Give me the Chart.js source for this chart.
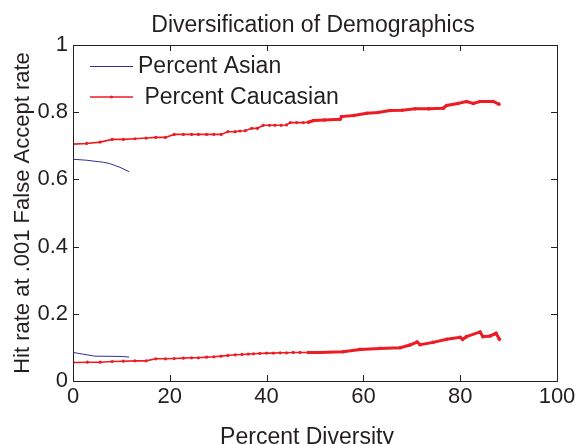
<!DOCTYPE html>
<html>
<head>
<meta charset="utf-8">
<script src="https://cdn.jsdelivr.net/npm/chart.js@4/dist/chart.umd.min.js"></script>
<style>
html, body { margin: 0; padding: 0; background: #fff; }
</style>
</head>
<body>
<canvas id="chart" width="579" height="444"></canvas>
<script>
// values
const xTickValues = [0, 20, 40, 60, 80, 100];
const yTickValues = [0, 0.2, 0.4, 0.6, 0.8, 1];
const yTickLabels = ['0', '0.2', '0.4', '0.6', '0.8', '1'];

const asianHighX = [0, 2.8, 6.3, 7.6, 9.7, 11.6];
const asianHighY = [0.660, 0.657, 0.651, 0.647, 0.636, 0.623];
const asianLowX = [0, 2.0, 4.5, 10.4, 11.6];
const asianLowY = [0.085, 0.080, 0.074, 0.073, 0.071];

const caucHighX = [0, 2.8, 5.6, 8.1, 10.4, 12.8, 15.1, 17.1, 19.1, 20.9, 22.8, 24.5, 25.9, 27.6, 29.1, 30.6,
    32.0, 33.5, 34.5, 35.6, 36.9, 38.1, 39.3, 40.6, 41.7, 43.0, 44.1, 44.9, 46.2, 47.6, 48.6,
    49.7, 52.0, 55.2, 55.5, 58.0, 60.7, 63.0, 65.5, 68.0, 70.7, 73.5, 76.5, 77.2, 79.5, 81.3, 82.7, 84.1, 86.8, 88.0];
const caucHighY = [0.705, 0.707, 0.711, 0.719, 0.719, 0.721, 0.723, 0.725, 0.725, 0.734, 0.734, 0.734, 0.734, 0.734, 0.734, 0.734,
    0.742, 0.742, 0.744, 0.745, 0.752, 0.752, 0.761, 0.761, 0.761, 0.761, 0.762, 0.769, 0.769, 0.769, 0.770,
    0.775, 0.777, 0.779, 0.787, 0.790, 0.797, 0.799, 0.805, 0.806, 0.810, 0.810, 0.812, 0.820, 0.826, 0.832, 0.826, 0.832, 0.832, 0.824];

const caucLowX = [0, 2.96, 5.6, 8.1, 10.4, 12.8, 15.1, 17.1, 19.1, 20.9, 22.8, 24.5, 25.9, 27.6, 29.1, 30.6,
    32.0, 33.5, 34.9, 36.2, 37.3, 38.6, 40.0, 41.4, 42.8, 44.1, 45.5, 46.9, 48.6,
    51.0, 55.8, 59.3, 63.4, 67.6, 69.6, 71.1, 71.7, 74.4, 77.2, 80.0, 80.5, 81.3, 84.1, 84.7, 86.2, 87.4, 88.1];
const caucLowY = [0.055, 0.056, 0.056, 0.058, 0.059, 0.060, 0.060, 0.066, 0.066, 0.067, 0.068, 0.069, 0.069, 0.071, 0.072, 0.074,
    0.076, 0.078, 0.079, 0.080, 0.081, 0.082, 0.083, 0.083, 0.084, 0.084, 0.085, 0.085, 0.085,
    0.085, 0.087, 0.094, 0.097, 0.099, 0.107, 0.116, 0.108, 0.115, 0.124, 0.130, 0.124, 0.132, 0.146, 0.132, 0.134, 0.142, 0.124];

const BLUE = 'rgb(45, 45, 160)';
const RED = 'rgb(237, 28, 36)';
const INK = '#231f20';
const FONT = "'Liberation Sans', Arial, Helvetica, sans-serif";

function toPoints(xs, ys) {
    return xs.map((x, i) => ({x: x, y: ys[i]}));
}

function asianSet(xs, ys) {
    return {
        data: toPoints(xs, ys), showLine: true, borderColor: BLUE, borderWidth: 1,
        pointRadius: 0, fill: false, tension: 0
    };
}

// markers get very dense past ~48 in the original, so the line reads thicker there
function caucSet(xs, ys) {
    return {
        data: toPoints(xs, ys), showLine: true, borderColor: RED, borderWidth: 1.6,
        segment: {borderWidth: c => c.p0.parsed.x >= 48 ? 3 : 1.6},
        pointRadius: c => (c.raw && c.raw.x >= 48) ? 1.8 : 1.6,
        pointBackgroundColor: RED, pointBorderWidth: 0, fill: false, tension: 0
    };
}

// titles, box round the plot, inward ticks and the legend, like the matlab figure
const framePlugin = {
    id: 'frame',
    afterDatasetsDraw(chart) {
        const ctx = chart.ctx;
        const a = chart.chartArea;
        const xs = chart.scales.x, ys = chart.scales.y;
        const tl = 6;
        ctx.save();
        ctx.strokeStyle = INK;
        ctx.lineWidth = 1;
        ctx.strokeRect(Math.round(a.left) + 0.5, Math.round(a.top) + 0.5,
            Math.round(a.right - a.left), Math.round(a.bottom - a.top));
        ctx.beginPath();
        for (let v of xTickValues) {
            let px = Math.round(xs.getPixelForValue(v)) + 0.5;
            ctx.moveTo(px, a.bottom); ctx.lineTo(px, a.bottom - tl);
            ctx.moveTo(px, a.top); ctx.lineTo(px, a.top + tl);
        }
        for (let v of yTickValues) {
            let py = Math.round(ys.getPixelForValue(v)) + 0.5;
            ctx.moveTo(a.left, py); ctx.lineTo(a.left + tl, py);
            ctx.moveTo(a.right, py); ctx.lineTo(a.right - tl, py);
        }
        ctx.stroke();

        ctx.fillStyle = INK;
        ctx.font = '23px ' + FONT;
        ctx.textAlign = 'center';
        ctx.textBaseline = 'alphabetic';
        ctx.fillText('Diversification of Demographics', (a.left + a.right) / 2 - 2, 32);
        ctx.fillText('Percent Diversity', (a.left + a.right) / 2 - 8, 444);

        // legend
        const lx0 = a.left + 17, lx1 = a.left + 60;
        const y1 = a.top + 21, y2 = a.top + 52;
        ctx.lineWidth = 1;
        ctx.strokeStyle = BLUE;
        ctx.beginPath(); ctx.moveTo(lx0, y1 + 0.5); ctx.lineTo(lx1, y1 + 0.5); ctx.stroke();
        ctx.strokeStyle = RED;
        ctx.lineWidth = 1.6;
        ctx.beginPath(); ctx.moveTo(lx0, y2); ctx.lineTo(lx1, y2); ctx.stroke();
        ctx.fillStyle = RED;
        ctx.beginPath(); ctx.arc((lx0 + lx1) / 2, y2, 1.6, 0, Math.PI * 2); ctx.fill();
        ctx.fillStyle = INK;
        ctx.textBaseline = 'middle';
        ctx.textAlign = 'left';
        ctx.fillText('Percent Asian', a.left + 65, y1 + 1);
        ctx.fillText(' Percent Caucasian', a.left + 65, y2 + 1);
        ctx.restore();
    }
};

new Chart(document.getElementById('chart'), {
    type: 'scatter',
    data: {
        datasets: [
            asianSet(asianHighX, asianHighY),
            caucSet(caucHighX, caucHighY),
            asianSet(asianLowX, asianLowY),
            caucSet(caucLowX, caucLowY)
        ]
    },
    options: {
        responsive: false,
        animation: false,
        layout: {padding: {left: 0, right: 22, top: 45, bottom: 0}},
        plugins: {
            legend: {display: false},
            tooltip: {enabled: false},
            title: {display: false}
        },
        scales: {
            x: {
                type: 'linear', min: 0, max: 100,
                afterBuildTicks: s => { s.ticks = xTickValues.map(v => ({value: v})); },
                afterFit: s => { s.height = 63; },
                grid: {display: false, drawTicks: false},
                border: {display: false},
                ticks: {color: INK, padding: 3, maxRotation: 0, autoSkip: false,
                    font: {family: FONT, size: 22}}
            },
            y: {
                type: 'linear', min: 0, max: 1,
                afterBuildTicks: s => { s.ticks = yTickValues.map(v => ({value: v})); },
                afterFit: s => { s.width = 73; },
                grid: {display: false, drawTicks: false},
                border: {display: false},
                ticks: {color: INK, padding: 5, autoSkip: false,
                    font: {family: FONT, size: 22},
                    callback: (v) => yTickLabels[yTickValues.indexOf(v)]},
                title: {display: true, text: 'Hit rate at .001 False Accept rate', color: INK,
                    font: {family: FONT, size: 22, lineHeight: 1.2}, padding: {top: 10, bottom: 0}}
            }
        }
    },
    plugins: [framePlugin]
});
</script>
</body>
</html>
